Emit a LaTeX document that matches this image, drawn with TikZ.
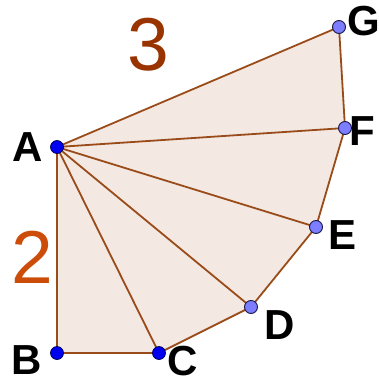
\documentclass[tikz,border=0pt]{standalone}
\usepackage{fontspec}
\setmainfont{Liberation Sans}
\definecolor{edgec}{RGB}{153,76,25}
\definecolor{fillc}{RGB}{244,232,226}
\definecolor{dotAf}{RGB}{0,0,240}
\definecolor{dotAd}{RGB}{0,0,80}
\definecolor{dotBf}{RGB}{125,125,255}
\definecolor{dotBd}{RGB}{25,25,70}
\definecolor{threec}{RGB}{153,51,0}
\definecolor{twoc}{RGB}{204,76,10}
\begin{document}
\begin{tikzpicture}[x=1pt,y=-1pt,
  edge/.style={draw=edgec,line width=1.8pt},
  dotA/.style={circle,fill=dotAf,draw=dotAd,line width=0.7pt,inner sep=0pt,minimum size=13pt},
  dotB/.style={circle,fill=dotBf,draw=dotBd,line width=0.9pt,inner sep=0pt,minimum size=13pt},
  lbl/.style={font=\fontsize{42}{42}\selectfont\bfseries,text=black,inner sep=0pt},
  num/.style={font=\fontsize{75}{75}\selectfont,inner sep=0pt}]
\useasboundingbox (0,0) rectangle (379,383);
\coordinate (A) at (57,147);
\coordinate (B) at (57,353);
\coordinate (C) at (159,353);
\coordinate (D) at (251,307);
\coordinate (E) at (316,227);
\coordinate (F) at (345,128);
\coordinate (G) at (339,27);
\fill[fillc] (A)--(B)--(C)--(D)--(E)--(F)--(G)--cycle;
\draw[edge] (A)--(B)--(C)--(D)--(E)--(F)--(G)--cycle;
\draw[edge] (A)--(C) (A)--(D) (A)--(E) (A)--(F);
\node[dotA] (nA) at (A) {};
\node[dotA] (nB) at (B) {};
\node[dotA] (nC) at (C) {};
\node[dotB] (nD) at (D) {};
\node[dotB] (nE) at (E) {};
\node[dotB] (nF) at (F) {};
\node[dotB] (nG) at (G) {};
\node[lbl] (tA) at (28,147) {A};
\node[lbl] (tB) at (27,360) {B};
\node[lbl] (tC) at (183,361) {C};
\node[lbl] (tD) at (280,325) {D};
\node[lbl] (tE) at (343,235) {E};
\node[lbl] (tF) at (362,131) {F};
\node[lbl] (tG) at (364,21) {G};
\node[num,text=threec] (t3) at (148,45) {3};
\node[num,text=twoc] (t2) at (32,257) {2};
\end{tikzpicture}
\end{document}
